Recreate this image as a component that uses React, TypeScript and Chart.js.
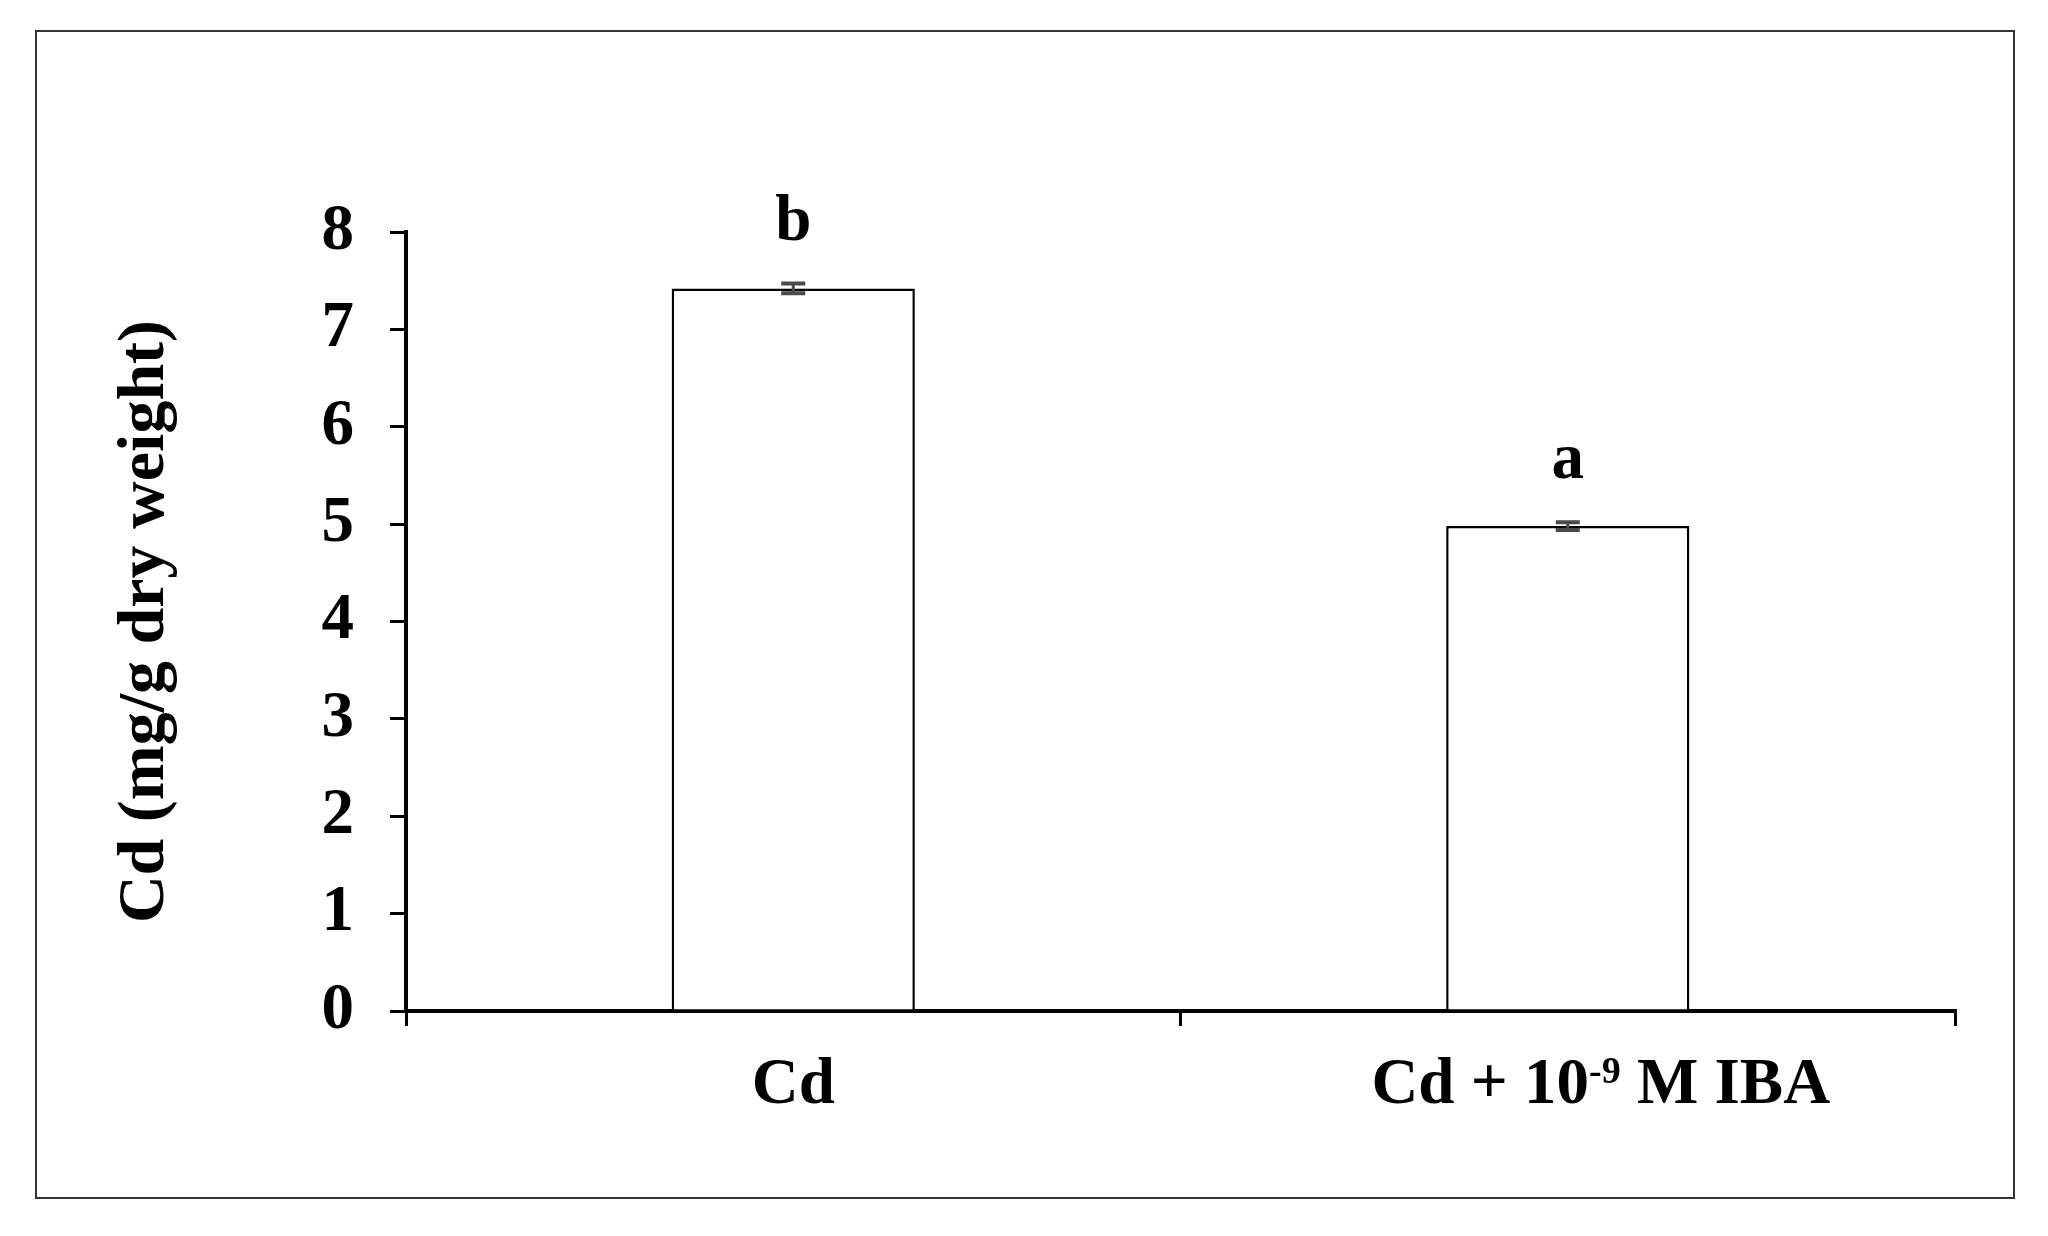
import React, { useEffect, useRef } from "react";
import { Chart, registerables } from "chart.js";

Chart.register(...registerables);

// Category label pieces (sup = superscript)
const labelParts = [
  [{ t: "Cd", sup: false }],
  [
    { t: "Cd + 10", sup: false },
    { t: "-9", sup: true },
    { t: " M IBA", sup: false },
  ],
];
const categories = labelParts.map((p) => p.map((s) => s.t).join(""));
const cdValues = [7.42, 4.98];
const cdErrors = [0.05, 0.04];
const letters = ["b", "a"];
const yMin = 0;
const yMax = 8;
const yStep = 1;
const yTitle = "Cd (mg/g dry weight)";

const FONT = "'Liberation Serif', 'Times New Roman', serif";
const FS = 65;
const SUP_FS = 38;
const labelNudge = [0, 33];

const annotPlugin = {
  id: "annot",
  afterDatasetsDraw(chart: any) {
    const ctx = chart.ctx;
    const meta = chart.getDatasetMeta(0);
    const ys = chart.scales.y;
    ctx.save();
    meta.data.forEach((bar: any, i: number) => {
      const x = bar.x;
      const top = ys.getPixelForValue(cdValues[i] + cdErrors[i]);
      const bot = ys.getPixelForValue(cdValues[i] - cdErrors[i]);
      ctx.strokeStyle = "#4a4a4a";
      ctx.lineWidth = 3;
      ctx.beginPath();
      ctx.moveTo(x, top);
      ctx.lineTo(x, bot);
      ctx.stroke();
      ctx.lineWidth = 4;
      ctx.beginPath();
      ctx.moveTo(x - 12, top);
      ctx.lineTo(x + 12, top);
      ctx.moveTo(x - 12, bot);
      ctx.lineTo(x + 12, bot);
      ctx.stroke();
      ctx.fillStyle = "#000";
      ctx.font = `bold ${FS}px ${FONT}`;
      ctx.textAlign = "center";
      ctx.textBaseline = "alphabetic";
      ctx.fillText(letters[i], x, top - 44);
    });
    ctx.restore();
  },
  afterDraw(chart: any) {
    const ctx = chart.ctx;
    const xs = chart.scales.x;
    const baseY = chart.chartArea.bottom + 92;
    ctx.save();
    ctx.fillStyle = "#000";
    ctx.textAlign = "left";
    ctx.textBaseline = "alphabetic";
    labelParts.forEach((parts, i) => {
      let total = 0;
      const widths = parts.map((p) => {
        ctx.font = `bold ${p.sup ? SUP_FS : FS}px ${FONT}`;
        const w = ctx.measureText(p.t).width;
        total += w;
        return w;
      });
      let x = xs.getPixelForValue(i) + labelNudge[i] - total / 2;
      parts.forEach((p, k) => {
        ctx.font = `bold ${p.sup ? SUP_FS : FS}px ${FONT}`;
        ctx.fillText(p.t, x, p.sup ? baseY - 20 : baseY);
        x += widths[k];
      });
    });
    ctx.restore();
  },
};

export default function App() {
  const ref = useRef<HTMLCanvasElement | null>(null);
  useEffect(() => {
    if (!ref.current) return;
    const chart = new Chart(ref.current, {
      type: "bar",
      data: {
        labels: categories,
        datasets: [
          {
            data: cdValues,
            backgroundColor: "#ffffff",
            borderColor: "#000000",
            borderWidth: 2.5,
            borderSkipped: "bottom",
            categoryPercentage: 1,
            barPercentage: 0.314,
          },
        ],
      },
      options: {
        animation: false,
        responsive: false,
        maintainAspectRatio: false,
        layout: { padding: { top: 200, right: 58, left: 0, bottom: 0 } },
        plugins: {
          legend: { display: false },
          tooltip: { enabled: false },
          title: { display: false },
        },
        scales: {
          x: {
            type: "category",
            afterFit: (s: any) => {
              s.height = 186;
            },
            grid: {
              offset: true,
              drawOnChartArea: false,
              drawTicks: true,
              tickLength: 15,
              lineWidth: 3,
              color: "#000",
            },
            border: { display: true, width: 4, color: "#000" },
            ticks: { display: false },
          },
          y: {
            min: yMin,
            max: yMax,
            afterFit: (s: any) => {
              s.width = 369;
            },
            grid: {
              drawOnChartArea: false,
              drawTicks: true,
              tickLength: 16,
              lineWidth: 3,
              color: "#000",
            },
            border: { display: true, width: 4, color: "#000" },
            ticks: {
              stepSize: yStep,
              color: "#000",
              padding: 36,
              font: { family: FONT, size: FS, weight: "bold" },
            },
            title: {
              display: true,
              text: yTitle,
              color: "#000",
              padding: { top: 69, bottom: 0 },
              font: { family: FONT, size: 66, weight: "bold" },
            },
          },
        },
      },
      plugins: [annotPlugin],
    });
    return () => chart.destroy();
  }, []);

  return (
    <div
      style={{
        position: "absolute",
        left: 35,
        top: 30,
        width: 1980,
        height: 1169,
        boxSizing: "border-box",
        border: "2px solid #333",
        background: "#fff",
      }}
    >
      <canvas ref={ref} width={1976} height={1165} style={{ display: "block" }} />
    </div>
  );
}
